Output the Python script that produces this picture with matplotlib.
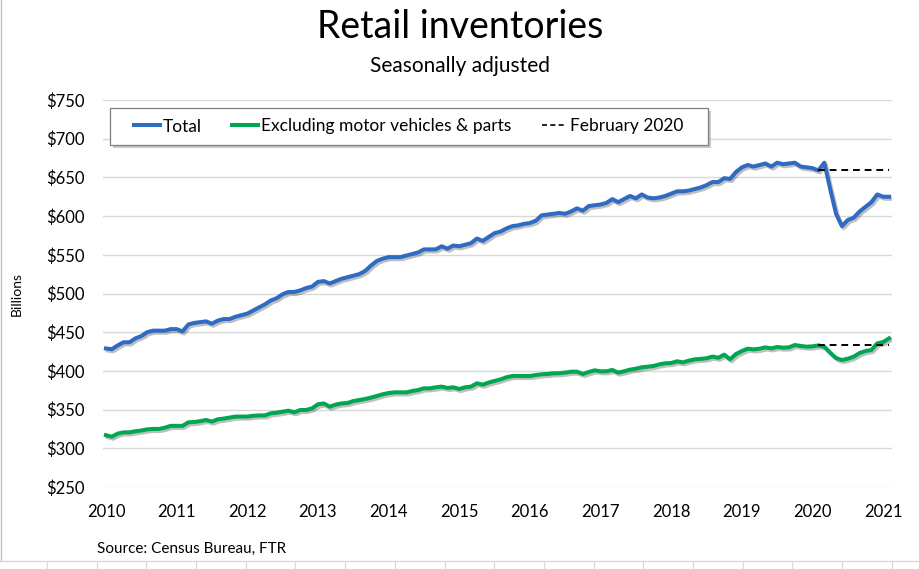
import matplotlib
matplotlib.use("Agg")
import matplotlib.pyplot as plt
import matplotlib.patheffects as pe
from matplotlib.lines import Line2D
from matplotlib.patches import Rectangle
import numpy as np

plt.rcParams['font.family'] = ['Lato', 'DejaVu Sans']

years = ["2010", "2011", "2012", "2013", "2014", "2015", "2016", "2017", "2018", "2019", "2020", "2021"]
yticks = [250, 300, 350, 400, 450, 500, 550, 600, 650, 700, 750]
ytick_labels = ["$250", "$300", "$350", "$400", "$450", "$500", "$550", "$600", "$650", "$700", "$750"]

# Monthly, Jan 2010 .. Feb 2021 (billions of dollars)
total = [
    429, 428, 433, 437, 437, 442, 445, 450, 452, 452, 452, 454,
    454, 451, 460, 462, 463, 464, 461, 465, 467, 467, 470, 472,
    474, 478, 482, 486, 491, 494, 499, 502, 502, 504, 507, 509,
    515, 516, 513, 516, 519, 521, 523, 525, 529, 536, 542, 545,
    547, 547, 547, 549, 551, 553, 557, 557, 557, 561, 558, 562,
    561, 563, 565, 571, 568, 573, 578, 580, 584, 587, 588, 590,
    591, 594, 601, 602, 603, 604, 603, 606, 610, 607, 613, 614,
    615, 617, 622, 618, 622, 626, 623, 628, 624, 623, 624, 626,
    629, 632, 632, 633, 635, 637, 640, 644, 644, 649, 648, 657,
    663, 666, 664, 666, 668, 664, 669, 667, 668, 669, 664, 663,
    662, 659, 669, 635, 603, 587, 595, 598, 606, 612, 618, 628,
    625, 625,
]
ex_auto = [
    317, 315, 319, 320.6, 320.6, 322, 323, 324.5, 325, 325, 326.6, 329,
    329, 329, 333.6, 334, 335, 336.6, 334.5, 337.5, 338.4, 339.7, 341, 341,
    341, 342, 342.5, 342.5, 345.2, 346, 347.3, 348.6, 346.5, 349.5, 349.5, 351.6,
    356.8, 358, 353.8, 356.4, 358, 358.5, 361, 362.4, 363.7, 365.4, 367.6, 369.8,
    371.4, 372.3, 372.3, 372.3, 374, 375.3, 377.5, 377.5, 378.8, 379.7, 378, 378.8,
    376.6, 378.8, 379.7, 384, 382.2, 385, 387, 389, 391.7, 393.4, 393.4, 393.4,
    393.4, 394.7, 395.6, 396, 396.9, 397, 397.8, 399, 399, 396, 398.6, 400.8,
    399.5, 399.5, 401.2, 397.8, 399.5, 401.6, 402.9, 404.6, 405.5, 406.4, 408.5, 409.8,
    410.2, 412.4, 411, 413.3, 415, 415.5, 416.3, 418.5, 417, 421, 415, 421.8,
    425.7, 428.7, 427.8, 428.7, 430.4, 429.1, 430.9, 430, 430.4, 433.4, 432.2, 431.3,
    431.7, 433, 431.3, 423.5, 416.6, 414, 415.8, 418.4, 423.1, 425.7, 427, 435.6,
    437.3, 442,
]
feb2020_index = 121  # position of February 2020 in the monthly series

x = np.arange(len(total))
W, H = 920, 569

fig = plt.figure(figsize=(9.2, 5.69), dpi=100)
ax = fig.add_axes([103/W, 1-487/H, (892-103)/W, (487-100)/H])

blue = "#2F6BC3"
green = "#00A651"
shadow = [pe.SimpleLineShadow(offset=(1.2, -1.5), alpha=0.25, shadow_color="black"), pe.Normal()]

ax.plot(x, total, color=blue, lw=2.9, solid_joinstyle='round', path_effects=shadow, zorder=3)
ax.plot(x, ex_auto, color=green, lw=2.9, solid_joinstyle='round', path_effects=shadow, zorder=3)

xd = x[feb2020_index:]
ax.plot(xd, [total[feb2020_index]] * len(xd), color="black", lw=1.4, ls=(0, (3.5, 2.5)), zorder=4)
ax.plot(xd, [ex_auto[feb2020_index]] * len(xd), color="black", lw=1.4, ls=(0, (3.5, 2.5)), zorder=4)

ax.set_xlim(-0.5, len(total) - 0.5)
ax.set_ylim(250, 750)
ax.set_yticks(yticks)
ax.set_yticklabels(ytick_labels)
ax.set_xticks(np.arange(len(years)) * 12)
ax.set_xticklabels(years)
ax.tick_params(axis='both', length=0, labelsize=12, colors="black")
ax.tick_params(axis='y', pad=13)
ax.tick_params(axis='x', pad=12)
ax.grid(axis='y', color="#D9D9D9", lw=1)
ax.set_axisbelow(True)
for s in ax.spines.values():
    s.set_visible(False)

ax.set_ylabel("Billions", fontsize=10, labelpad=17)

fig.text(0.5, 1-27/H, "Retail inventories", ha="center", va="center", fontsize=27)
fig.text(0.5, 1-66/H, "Seasonally adjusted", ha="center", va="center", fontsize=15)
fig.text(97/W, 1-549/H, "Source: Census Bureau, FTR", ha="left", va="center", fontsize=11)

# legend frame (Excel-style with shadow)
fig.add_artist(Rectangle((113/W, 1-148/H), (708-110)/W, (145-108)/H, transform=fig.transFigure,
                         facecolor="#A6A6A6", edgecolor="none", alpha=0.6, zorder=5))
fig.add_artist(Rectangle((110/W, 1-145/H), (708-110)/W, (145-108)/H, transform=fig.transFigure,
                         facecolor="white", edgecolor="#7F7F7F", lw=0.9, zorder=6))

handles = [
    Line2D([], [], color=blue, lw=2.9),
    Line2D([], [], color=green, lw=2.9),
    Line2D([], [], color="black", lw=1.2, ls=(0, (3, 2))),
]
labels = ["Total", "Excluding motor vehicles & parts", "February 2020"]
leg = fig.legend(handles, labels, loc="center", bbox_to_anchor=(409/W, 1-126.5/H),
                 ncol=3, frameon=False, fontsize=12.5,
                 handlelength=1.45, handletextpad=0.2, columnspacing=1.75,
                 borderpad=0, borderaxespad=0)
leg.set_zorder(7)

# chart frame and sheet lines
fig.add_artist(Line2D([0.001, 0.001], [1-561/H, 1], color="#BFBFBF", lw=1))
fig.add_artist(Line2D([0, 1], [1-561/H, 1-561/H], color="#D9D9D9", lw=1))
for px in np.arange(47, W, 49.7):
    fig.add_artist(Line2D([px/W, px/W], [0, 1-561/H], color="#D9D9D9", lw=0.8))

fig.savefig("out.png", dpi=100, facecolor="white")
